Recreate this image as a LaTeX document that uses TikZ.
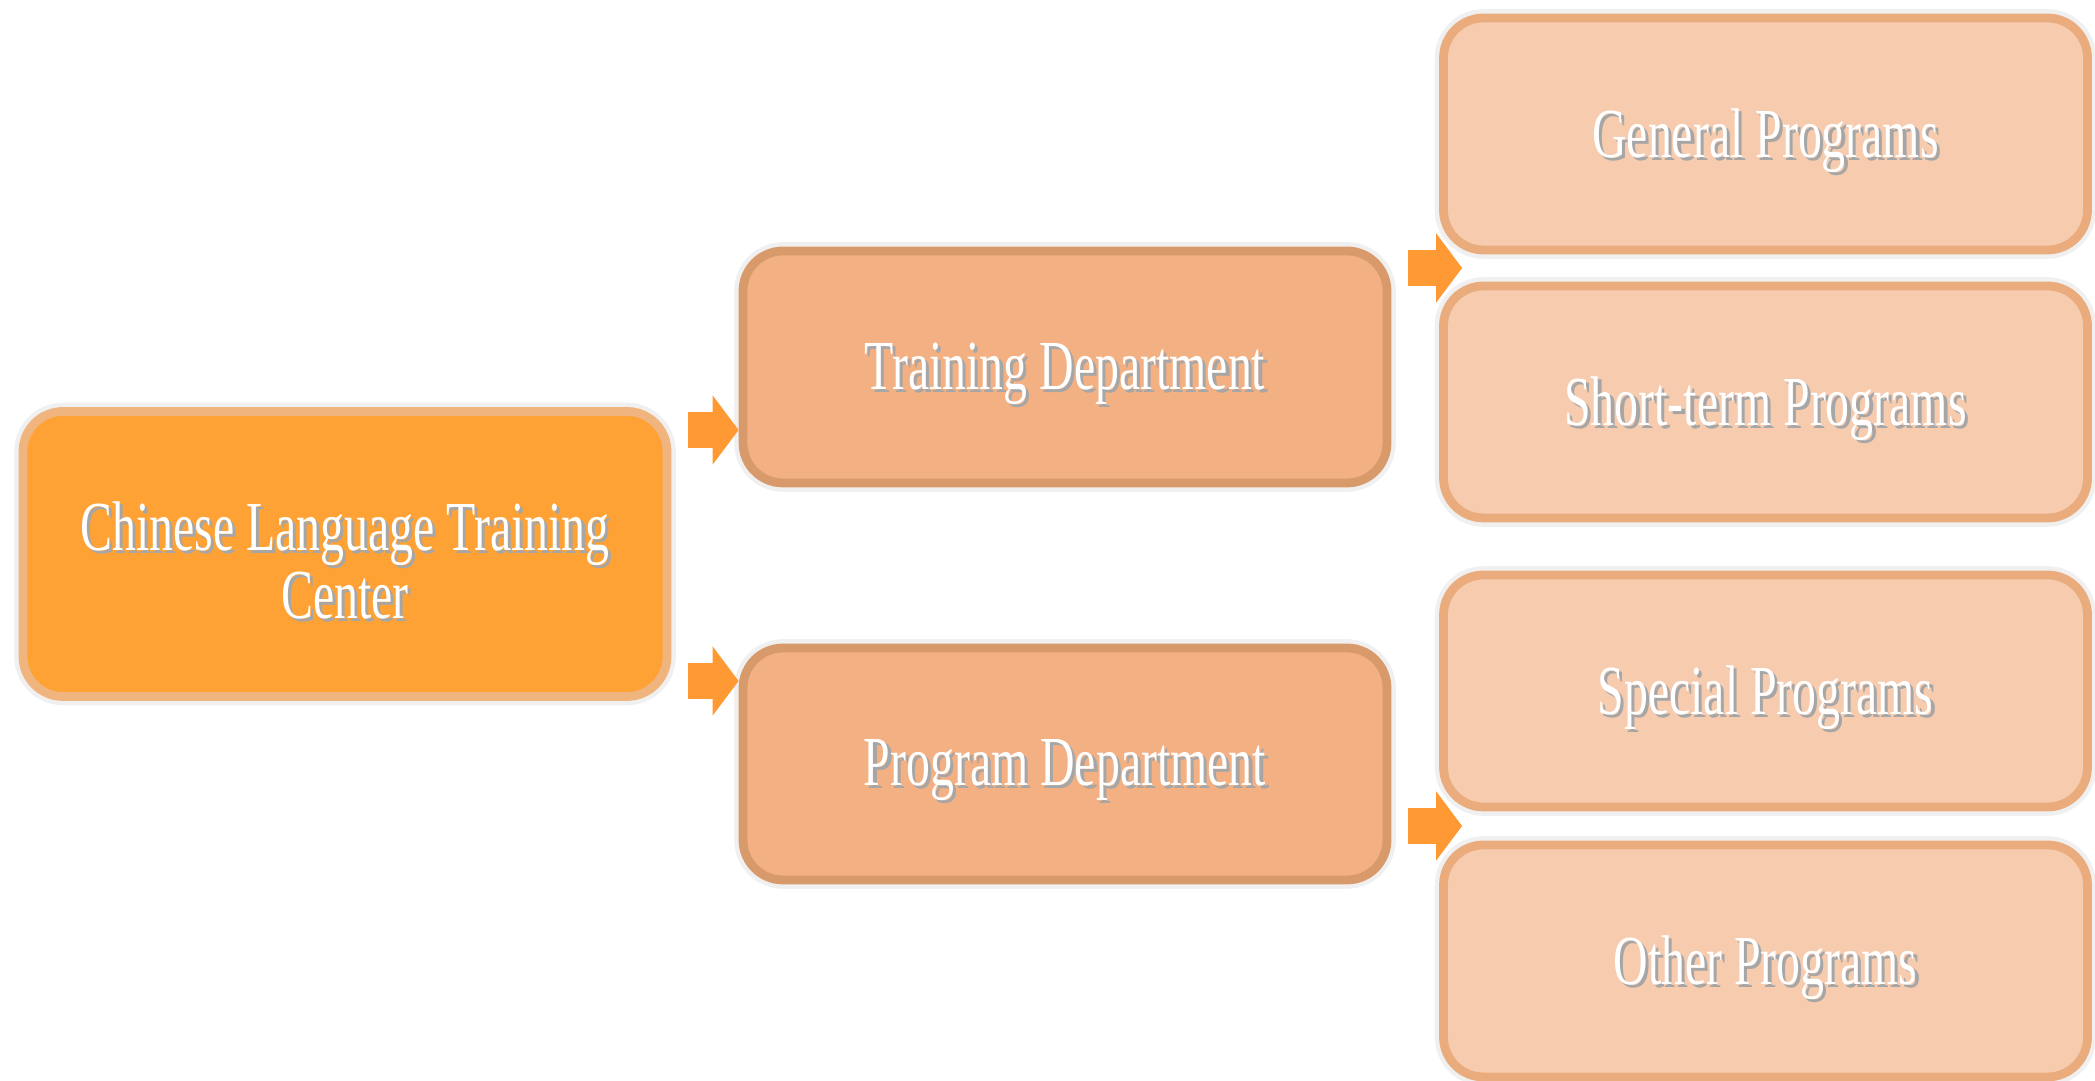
\documentclass[tikz,border=0pt]{standalone}
\usepackage{fontspec}
\newfontfamily\boxfont[FakeStretch=0.68]{Liberation Serif}
\usetikzlibrary{arrows.meta,calc}

\definecolor{rootfill}{RGB}{255,162,54}
\definecolor{rootline}{RGB}{240,180,126}
\definecolor{deptfill}{RGB}{242,176,131}
\definecolor{deptline}{RGB}{216,154,106}
\definecolor{progfill}{RGB}{246,203,174}
\definecolor{progline}{RGB}{234,172,124}
\definecolor{arrowfill}{RGB}{255,153,51}

% white text with a soft grey shadow
\newcommand\shtxt[1]{\leavevmode\raisebox{-0.8mm}[\height][\depth]{\rlap{\kern0.9pt\raisebox{-0.9pt}{\textcolor{black!35}{#1}}}#1}}

\tikzset{
  box/.style={rounded corners=0.4cm, minimum width=6.44cm, minimum height=2.32cm,
    line width=2.5pt, text=white, align=center,
    font=\boxfont\fontsize{20}{15.5}\selectfont,
    preaction={draw=black!6, line width=5pt}},
  rootbox/.style={box, fill=rootfill, draw=rootline, minimum height=2.85cm},
  deptbox/.style={box, fill=deptfill, draw=deptline},
  progbox/.style={box, fill=progfill, draw=progline},
  flow/.style={draw=arrowfill, line width=0.36cm,
    -{Triangle[width=0.68cm,length=0.26cm]}, shorten <=0.17cm}
}

\begin{document}
\begin{tikzpicture}
    \useasboundingbox (0,0) rectangle (20.95,10.81);
    \node[rootbox] (lcc) at (3.45,5.27) {\shtxt{Chinese Language Training}\\\shtxt{Center}};
    \node[deptbox] (train) at (10.65,7.14) {\shtxt{Training Department}};
    \node[deptbox] (prog) at (10.65,3.17) {\shtxt{Program Department}};
    \node[progbox] (general) at (17.655,9.47) {\shtxt{General Programs}};
    \node[progbox] (short) at (17.655,6.79) {\shtxt{Short-term Programs}};
    \node[progbox] (special) at (17.655,3.90) {\shtxt{Special Programs}};
    \node[progbox] (other) at (17.655,1.20) {\shtxt{Other Programs}};
    \coordinate (gap1) at ($(general.south west)!0.5!(short.north west)$);
    \coordinate (gap2) at ($(special.south west)!0.5!(other.north west)$);
    \draw[flow] ([yshift=-6.3mm]train.west -| lcc.east) -- ([yshift=-6.3mm]train.west);
    \draw[flow] ([yshift=8.3mm]prog.west -| lcc.east) -- ([yshift=8.3mm]prog.west);
    \draw[flow] (gap1 -| train.east) -- ([xshift=2.3mm]gap1);
    \draw[flow] (gap2 -| prog.east) -- ([xshift=2.3mm]gap2);
  \end{tikzpicture}
\end{document}
